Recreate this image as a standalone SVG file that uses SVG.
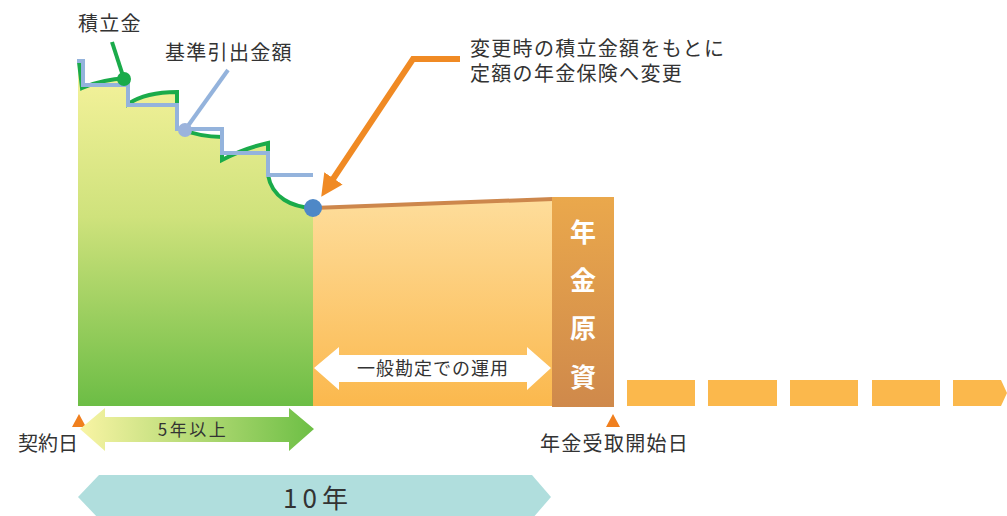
<svg xmlns="http://www.w3.org/2000/svg" width="1007" height="516" viewBox="0 0 1007 516">
<defs>
<linearGradient id="gGreen" gradientUnits="userSpaceOnUse" x1="0" y1="62" x2="0" y2="406">
<stop offset="0" stop-color="#f7f39d"/>
<stop offset="0.45" stop-color="#cfe27c"/>
<stop offset="1" stop-color="#6cbd45"/>
</linearGradient>
<linearGradient id="gOrange" gradientUnits="userSpaceOnUse" x1="0" y1="199" x2="0" y2="406">
<stop offset="0" stop-color="#fedd9b"/>
<stop offset="1" stop-color="#fbb84d"/>
</linearGradient>
<linearGradient id="gBox" gradientUnits="userSpaceOnUse" x1="0" y1="197" x2="0" y2="407">
<stop offset="0" stop-color="#eaa84c"/>
<stop offset="1" stop-color="#cf894b"/>
</linearGradient>
<linearGradient id="gFive" gradientUnits="userSpaceOnUse" x1="80" y1="0" x2="314" y2="0">
<stop offset="0" stop-color="#f9f4a4"/>
<stop offset="1" stop-color="#6dbf45"/>
</linearGradient>
<marker id="mOrange" markerUnits="userSpaceOnUse" markerWidth="22" markerHeight="22" viewBox="0 0 20 20" refX="4" refY="10" orient="auto">
<path d="M0,0 L20,10 L0,20 z" fill="#f08a24"/>
</marker>
</defs>
<style>
.t{font-family:"Noto Sans CJK JP","Noto Sans",sans-serif;fill:#333;}
.lab{font-size:20px;letter-spacing:1.3px;}
.box{font-family:"Noto Sans CJK JP","Noto Sans",sans-serif;fill:#fff;font-size:26px;font-weight:bold;text-anchor:middle;}
.tri{fill:#f07f1e;}
.dash{fill:#fbb84c;}
</style>

<g id="green-area">
<path d="M78,406 L78,62 L79,62 L82,88 C95,82 112,79 128,78 L128,104 C140,96 155,92 177,92 L177,128 C190,133 205,137 222,137 L222,160 C235,153 250,147 268,143 L268,175 C272,198 292,207 313,208 L313,406 Z" fill="url(#gGreen)"/>
<path d="M79,62 L82,88 C95,82 112,79 128,78 L128,104 C140,96 155,92 177,92 L177,128 C190,133 205,137 222,137 L222,160 C235,153 250,147 268,143 L268,175 C272,198 292,207 313,208" fill="none" stroke="#1aab4a" stroke-width="4"/>
</g>

<g id="orange-area">
<path d="M313,208 L552,199 L552,406 L313,406 Z" fill="url(#gOrange)"/>
<line x1="313" y1="208" x2="553" y2="199" stroke="#cd874c" stroke-width="4"/>
</g>

<g id="step-line">
<path d="M77,61 L83,61 L83,85 L128,85 L128,105 L177,105 L177,129 L222,129 L222,153 L268,153 L268,175 L313,175" fill="none" stroke="#94b3dc" stroke-width="4"/>
</g>

<g id="connectors">
<line x1="112" y1="42" x2="124" y2="79" stroke="#1aab4a" stroke-width="4"/>
<line x1="228" y1="70" x2="185" y2="130" stroke="#94b3dc" stroke-width="4"/>
<polyline points="460,59 413,59 331,182" fill="none" stroke="#f08a24" stroke-width="6" marker-end="url(#mOrange)"/>
</g>

<g id="dots">
<circle cx="124" cy="79" r="7" fill="#1aab4a"/>
<circle cx="185" cy="130" r="7" fill="#9bb3dc"/>
<circle cx="313" cy="208" r="9" fill="#4e88c7"/>
</g>

<g id="label-tsumitate">
<text class="t lab" x="78" y="31">積立金</text>
</g>
<g id="label-kijun">
<text class="t lab" x="165" y="60">基準引出金額</text>
</g>
<g id="label-change">
<text class="t lab" x="470" y="56">変更時の積立金額をもとに</text>
<text class="t lab" x="470" y="81">定額の年金保険へ変更</text>
</g>

<g id="nenkin-genshi">
<rect x="552" y="197" width="62" height="210" fill="url(#gBox)"/>
<text class="box" x="583" y="242">年</text>
<text class="box" x="583" y="290">金</text>
<text class="box" x="583" y="338">原</text>
<text class="box" x="583" y="387">資</text>
</g>

<g id="ippan-arrow">
<polygon points="314,368 339,347 339,355 527,355 527,347 551,368 527,390 527,382 339,382 339,390" fill="#fff"/>
<text class="t" x="433" y="375" font-size="18" letter-spacing="1" text-anchor="middle">一般勘定での運用</text>
</g>

<g id="payout-dashes">
<rect class="dash" x="627" y="380" width="68" height="26"/>
<rect class="dash" x="708" y="380" width="69" height="26"/>
<rect class="dash" x="790" y="380" width="68" height="26"/>
<rect class="dash" x="872" y="380" width="68" height="26"/>
<polygon class="dash" points="953,380 1001,380 1007,393 1001,406 953,406"/>
</g>

<g id="contract-date">
<polygon class="tri" points="79,414 86,427 72,427"/>
<text class="t" x="18" y="451" font-size="20">契約日</text>
</g>

<g id="payout-date">
<polygon class="tri" points="613,414 620,427 606,427"/>
<text class="t lab" x="540" y="451">年金受取開始日</text>
</g>

<g id="five-years">
<polygon points="80,429 105,408 105,417 289,417 289,408 314,429 289,451 289,442 105,442 105,451" fill="url(#gFive)"/>
<text class="t" x="193" y="436" font-size="17" letter-spacing="2.5" text-anchor="middle">5年以上</text>
</g>

<g id="ten-years">
<polygon points="78,497 99,475 532,475 551,497 532,519 99,519" fill="#b0dedd"/>
<text class="t" x="318" y="508" font-size="26" letter-spacing="5" text-anchor="middle">10年</text>
</g>
</svg>
